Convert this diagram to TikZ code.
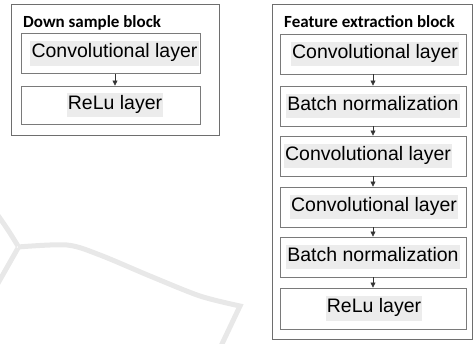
\documentclass[tikz,border=0pt]{standalone}
\usepackage{fontspec}
\setmainfont{Liberation Sans}
\newfontfamily\ttlfont{Carlito}
\usetikzlibrary{arrows.meta}
\definecolor{hl}{HTML}{ECECEC}
\definecolor{bordr}{HTML}{7A7A7A}
\definecolor{outer}{HTML}{6E6E6E}
\definecolor{wmark}{HTML}{E8E8E8}
\newcommand{\hlt}[1]{{\setlength{\fboxsep}{1.2pt}\colorbox{hl}{\strut #1}}}
\tikzset{
  layerbox/.style={draw=bordr, line width=0.9pt, rectangle, inner sep=0pt,
    minimum height=40pt, font=\fontsize{19.5}{22}\selectfont},
  leftbox/.style={layerbox, minimum width=179pt},
  rightbox/.style={layerbox, minimum width=186pt},
  outerbox/.style={draw=outer, line width=0.9pt},
  ttl/.style={anchor=base west, inner sep=0pt, font=\ttlfont\bfseries\fontsize{17}{20}\selectfont},
  arr/.style={draw=black!80, line width=0.6pt, -{Triangle[length=5pt,width=5pt]}},
  wm/.style={draw=wmark, line width=5pt}
}
\begin{document}
\begin{tikzpicture}[x=1pt,y=-1pt]
\useasboundingbox (0,0) rectangle (474,343);
% watermark
\draw[wm] plot[smooth] coordinates {(-3,214) (8,230) (18,246)};
\draw[wm] (18,248) -- (-3,285);
\draw[wm, line join=miter] plot[smooth] coordinates {(18,247) (67,245) (100,255) (150,276) (200,296) (240,306)} -- (221,346);
% left block
\draw[outerbox] (11,4) rectangle (219,135);
\node[ttl] (t1) at (23,27) {Down sample block};
\node[leftbox] (l1) at (110.5,53.5) {\hspace*{8pt}\hlt{Convolutional layer}};
\node[leftbox, minimum height=38pt] (l2) at (110.5,105) {\hspace*{9pt}\hlt{ReLu layer}};
\draw[arr] ([xshift=4.5pt]l1.south) -- ([xshift=4.5pt]l2.north);
% right block
\draw[outerbox] (272,4) rectangle (472,339);
\node[ttl] (t2) at (284,27) {Feature extraction block};
\node[rightbox] (r1) at (373,54) {\hspace*{4pt}\hlt{Convolutional layer}};
\node[rightbox] (r2) at (373,106) {\hlt{Batch normalization}};
\node[rightbox] (r3) at (373,156) {\hlt{Convolutional layer}\hspace*{10pt}};
\node[rightbox] (r4) at (373,207) {\hspace*{2pt}\hlt{Convolutional layer}};
\node[rightbox] (r5) at (373,257) {\hlt{Batch normalization}};
\node[rightbox, minimum height=41pt] (r6) at (373,308.5) {\hspace*{2pt}\hlt{ReLu layer}};
\draw[arr] (r1.south) -- (r2.north);
\draw[arr] (r2.south) -- (r3.north);
\draw[arr] (r3.south) -- (r4.north);
\draw[arr] (r4.south) -- (r5.north);
\draw[arr] (r5.south) -- (r6.north);
\end{tikzpicture}
\end{document}
